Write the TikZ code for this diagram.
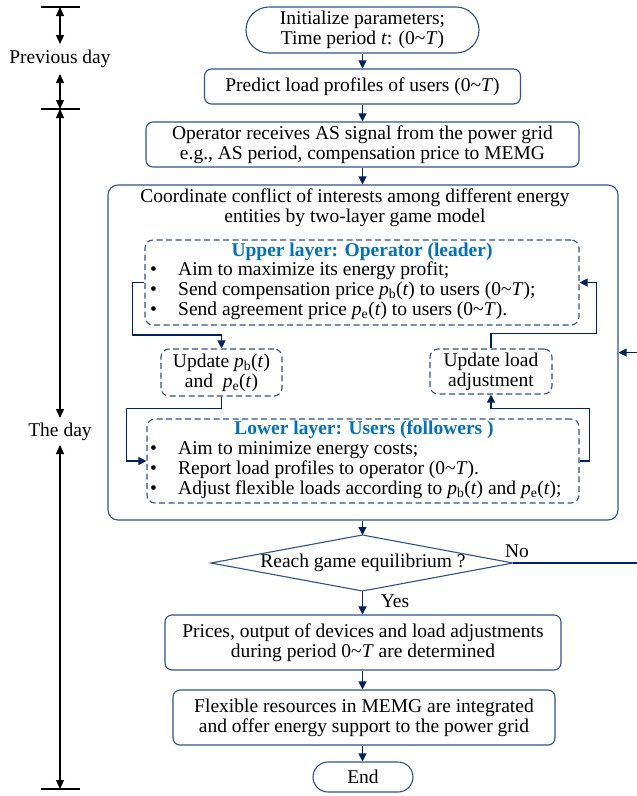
\documentclass[tikz,border=0pt]{standalone}
\usepackage{fontspec}
\setmainfont{Liberation Serif}
\usetikzlibrary{arrows.meta,calc}
\definecolor{boxc}{RGB}{47,82,143}
\definecolor{linec}{RGB}{0,32,96}
\definecolor{titlec}{RGB}{0,112,192}
\newcommand{\bulitem}[1]{\makebox[28pt][l]{\textbullet}#1}
\begin{document}
\begin{tikzpicture}[x=1pt,y=-1pt,
  font=\fontsize{19.5}{20}\selectfont,
  box/.style={draw=boxc, line width=1.1pt, rounded corners=7pt, inner sep=0pt, align=center},
  dbox/.style={draw=boxc, line width=1.1pt, rounded corners=8pt, dash pattern=on 6pt off 3.5pt, inner sep=0pt},
  conn/.style={draw=linec, line width=1.2pt, -{Triangle[length=8pt,width=8pt]}},
  tl/.style={line width=1.1pt, {Triangle[length=9pt,width=8pt]}-{Triangle[length=9pt,width=8pt]}},
  tickm/.style={line width=2pt},
  txt/.style={inner sep=0pt, text height=13pt, text depth=4pt},
  blist/.style={inner sep=0pt, anchor=north west, align=left, font=\fontsize{19.5}{20}\selectfont},
  ttl/.style={txt, font=\fontsize{19.5}{20}\selectfont\bfseries, text=titlec}
]
\path[fill=white] (0,0) rectangle (637,796);
\useasboundingbox (0,0) rectangle (637,796);

% timeline
\coordinate (tA) at (60,7);
\coordinate (tB) at (60,109);
\coordinate (tC) at (60,789);
\node[txt] (prev) at (60,59) {Previous day};
\node[txt] (day) at (60,432) {The day};
\draw[tickm] (41,7) -- (80,7);
\draw[tickm] (41,109) -- (80,109);
\draw[tickm] (41,789) -- (80,789);
\draw[tl] (tA) -- (60,44);
\draw[tl] (60,74) -- (tB);
\draw[tl] (tB) -- (60,418);
\draw[tl] (60,445) -- (tC);

% main column
\node[box, rounded corners=23pt, minimum width=233pt, minimum height=46pt] (start) at (362.5,30)
  {Initialize parameters;\\Time period \textit{t}: (0\textasciitilde\textit{T})};
\node[box, minimum width=316pt, minimum height=35pt] (pred) at (362.5,86.5)
  {Predict load profiles of users (0\textasciitilde\textit{T})};
\node[box, minimum width=433pt, minimum height=45pt] (oper) at (362.5,144.5)
  {Operator receives AS signal from the power grid\\e.g., AS period, compensation price to MEMG};
\node[box, rounded corners=10pt, minimum width=510pt, minimum height=335pt] (big) at (363,352.5) {};
\node[inner sep=0pt, align=center] (bigt) at (355,207.5)
  {Coordinate conflict of interests among different energy\\entities by two-layer game model};

% upper layer
\node[dbox, minimum width=434pt, minimum height=85pt] (up) at (362,282.5) {};
\node[ttl] (upt) at (362,252) {Upper layer: Operator (leader)};
\node[blist] (ulist) at (150,261.5) {%
  \bulitem{Aim to maximize its energy profit;}\\
  \bulitem{Send compensation price \textit{p}\textsubscript{b}(\textit{t}) to users (0\textasciitilde\textit{T});}\\
  \bulitem{Send agreement price \textit{p}\textsubscript{e}(\textit{t}) to users (0\textasciitilde\textit{T}).}};

% update boxes
\node[dbox, align=center, minimum width=121pt, minimum height=47pt] (updP) at (221.5,372.5)
  {Update \textit{p}\textsubscript{b}(\textit{t})\\and~ \textit{p}\textsubscript{e}(\textit{t})};
\node[dbox, align=center, minimum width=122pt, minimum height=45pt] (updL) at (491,371.5)
  {Update load\\adjustment};

% lower layer
\node[dbox, minimum width=432pt, minimum height=84pt] (low) at (363,461) {};
\node[ttl] (lowt) at (364,430) {Lower layer: Users (followers )};
\node[blist] (llist) at (150,441.5) {%
  \bulitem{Aim to minimize energy costs;}\\
  \bulitem{Report load profiles to operator (0\textasciitilde\textit{T}).}\\
  \bulitem{Adjust flexible loads according to \textit{p}\textsubscript{b}(\textit{t}) and \textit{p}\textsubscript{e}(\textit{t});}};

% decision
\coordinate (dT) at (362.5,535);
\coordinate (dR) at (513,563);
\coordinate (dB) at (362.5,591);
\coordinate (dL) at (211,563);
\draw[boxc, line width=1.1pt] (dT) -- (dR) -- (dB) -- (dL) -- cycle;
\node[txt] (dec) at (363,563) {Reach game equilibrium ?};
\node[txt] (no) at (517,553) {No};
\node[txt] (yes) at (395,603) {Yes};

% bottom boxes
\node[box, minimum width=396pt, minimum height=55pt] (prices) at (363,642.5)
  {Prices, output of devices and load adjustments\\during period 0\textasciitilde\textit{T} are determined};
\node[box, minimum width=382pt, minimum height=55pt] (flex) at (364,717.5)
  {Flexible resources in MEMG are integrated\\and offer energy support to the power grid};
\node[box, rounded corners=15pt, minimum width=100pt, minimum height=30pt] (endn) at (363,777) {End};

% connectors
\draw[conn] (start.south) -- (pred.north);
\draw[conn] (pred.south) -- (oper.north);
\draw[conn] (oper.south) -- (oper.south |- big.north);
\draw[conn] (big.south -| dT) -- (dT);
\draw[conn] (dB) -- (dB |- prices.north);
\draw[conn] (prices.south -| dB) -- (dB |- flex.north);
\draw[conn] (flex.south -| dB) -- (dB |- endn.north);
\draw[conn] (dR) -- ++(127,0) |- (big.east);

\draw[conn] (up.west) -| ($(up.west)+(-12,52.5)$) -| (updP.north);
\draw[conn] (updP.south) -- ++(0,12) -| ($(low.west)+(-20,0)$) -- (low.west);
\draw[conn] (low.east) -- ++(10,0) |- ($(updL.south)+(0,14)$) -- (updL.south);
\draw[conn] (updL.north) -- ++(0,-15) -| ($(up.east)+(17,0)$) -- (up.east);
\end{tikzpicture}
\end{document}
